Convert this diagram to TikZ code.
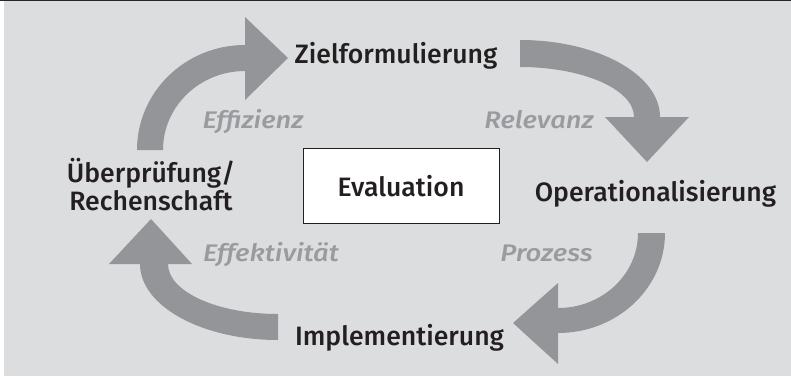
\documentclass[tikz,border=0pt]{standalone}
\usepackage{fontspec}
\setmainfont{Fira Sans}[UprightFont={* Medium}, ItalicFont={* Medium Italic}]
\newfontfamily\critfont{Fira Sans Medium Italic}[FakeStretch=1.14]
\definecolor{bggray}{HTML}{DCDDDF}
\definecolor{arrowgray}{HTML}{939598}
\definecolor{critgray}{HTML}{999B9E}
\definecolor{textblack}{HTML}{231F20}
\begin{document}
\begin{tikzpicture}[x=1pt,y=1pt,
  cyclearrow/.style={fill=arrowgray, draw=none},
  lab/.style={font=\fontsize{26.6}{28}\selectfont, text=textblack, inner sep=0pt, anchor=base},
  crit/.style={font=\critfont\fontsize{24}{26}\selectfont, text=critgray, inner sep=0pt, anchor=base},
  evalbox/.style={draw=textblack, line width=1pt, fill=white, minimum width=196pt, minimum height=75pt, inner sep=0pt, text height=22pt, text depth=0pt, font=\fontsize{26.6}{28}\selectfont, text=textblack}]
\useasboundingbox (0,0) rectangle (791,376);
\fill[white] (0,0) rectangle (791,376);
\fill[bggray] (4,0) rectangle (791,374.5);
\fill[black!85] (0,374.5) rectangle (791,376);
% arrows
\fill[cyclearrow] (137,226) arc[start angle=180, end angle=90, x radius=108, y radius=105] -- (245,359) -- (288,318) -- (245,276) -- (245,305) arc[start angle=90, end angle=180, x radius=82, y radius=79] -- cycle;
\fill[cyclearrow] (520,336) arc[start angle=90, end angle=0, x radius=140, y radius=77] -- (689,259) -- (647,214) -- (605,259) -- (634,259) arc[start angle=0, end angle=90, x radius=114, y radius=50] -- cycle;
\fill[cyclearrow] (665,143) arc[start angle=0, end angle=-90, x radius=107, y radius=100] -- (558,12) -- (513,53) -- (558,93) -- (558,68) arc[start angle=-90, end angle=0, x radius=80, y radius=75] -- cycle;
\fill[cyclearrow] (278,36) arc[start angle=270, end angle=180, x radius=138, y radius=76] -- (109,112) -- (151,157) -- (192,112) -- (168,112) arc[start angle=180, end angle=270, x radius=110, y radius=50] -- cycle;
% box
\node[evalbox] (eval) at (401,190.5) {Evaluation};
% labels
\node[lab] (ziel) at (396,313) {Zielformulierung};
\node[lab] (oper) at (655.5,175) {Operationalisierung};
\node[lab] (impl) at (399.5,31) {Implementierung};
\node[lab, align=center] (ueber) at (151,166) {Überprüfung/\\Rechenschaft};
\node[crit] (effi) at (253,248) {Effizienz};
\node[crit] (rel) at (539,248) {Relevanz};
\node[crit] (effe) at (271,115) {Effektivität};
\node[crit] (proz) at (546.5,115) {Prozess};
\end{tikzpicture}
\end{document}
